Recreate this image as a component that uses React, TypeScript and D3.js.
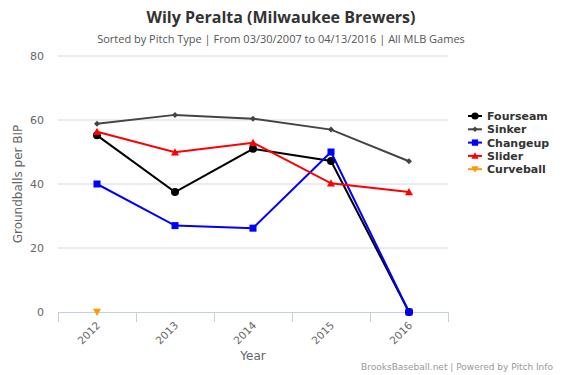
import React from "react";
import * as d3 from "d3";

const years = ["2012", "2013", "2014", "2015", "2016"];
const yTicks = [0, 20, 40, 60, 80];
const fourseam: (number | null)[] = [55.2, 37.5, 51.0, 47.2, 0];
const sinker: (number | null)[] = [58.8, 61.6, 60.4, 57.0, 47.1];
const changeup: (number | null)[] = [40.0, 27.0, 26.2, 50.0, 0];
const slider: (number | null)[] = [56.3, 49.9, 52.9, 40.2, 37.5];
const curveball: (number | null)[] = [0, null, null, null, null];

const seriesNames = ["Fourseam", "Sinker", "Changeup", "Slider", "Curveball"];
const seriesData = [fourseam, sinker, changeup, slider, curveball];
const seriesColors = ["#000000", "#444444", "#0000FF", "#FF0000", "#FF9900"];
const seriesSymbols = ["circle", "diamond", "square", "triangle", "triangle-down"];

const FONT = "'DejaVu Sans', Verdana, sans-serif";
const TFONT = "'Open Sans', 'DejaVu Sans', sans-serif";

function Marker({ type, x, y, color, size = 1 }: { type: string; x: number; y: number; color: string; size?: number }) {
  if (type === "circle") return <circle cx={x} cy={y} r={4 * size} fill={color} />;
  if (type === "diamond") {
    const r = 3 * size;
    return <path d={`M${x},${y - r}L${x + r},${y}L${x},${y + r}L${x - r},${y}Z`} fill={color} />;
  }
  if (type === "square") {
    const r = 3.5 * size;
    return <rect x={x - r} y={y - r} width={2 * r} height={2 * r} fill={color} />;
  }
  if (type === "triangle") {
    const r = 4 * size;
    return <path d={`M${x},${y - r}L${x + r},${y + r * 0.8}L${x - r},${y + r * 0.8}Z`} fill={color} />;
  }
  const r = 4 * size;
  return <path d={`M${x},${y + r}L${x + r},${y - r * 0.8}L${x - r},${y - r * 0.8}Z`} fill={color} />;
}

export default function App() {
  const W = 563, H = 375;
  const left = 58, right = 448, top = 56, bottom = 312;
  const x = d3.scaleBand<string>().domain(years).range([left, right]);
  const y = d3.scaleLinear().domain([0, 80]).range([bottom, top]);
  const cx = (yr: string) => (x(yr) ?? 0) + x.bandwidth() / 2;
  const line = d3
    .line<number | null>()
    .defined((d) => d !== null)
    .x((_, i) => cx(years[i]))
    .y((d) => y(d as number));

  const boundaries = [...years.map((yr) => x(yr) ?? 0), right];

  return (
    <svg width={W} height={H} style={{ position: "absolute", left: 0, top: 0 }} fontFamily={FONT}>
      <rect width={W} height={H} fill="#fff" />
      <text x={281} y={23} textAnchor="middle" fontSize={16} fontWeight="bold" fill="#333" fontFamily={TFONT}>
        Wily Peralta (Milwaukee Brewers)
      </text>
      <text x={281} y={43} textAnchor="middle" fontSize={11} fill="#555" fontFamily={TFONT}>
        Sorted by Pitch Type | From 03/30/2007 to 04/13/2016 | All MLB Games
      </text>
      {yTicks.filter((t) => t > 0).map((t) => (
        <line key={t} x1={left} x2={right} y1={y(t)} y2={y(t)} stroke="#D8D8D8" strokeWidth={1} />
      ))}
      {yTicks.map((t) => (
        <text key={t} x={44} y={y(t) + 4} textAnchor="end" fontSize={11} fill="#666">
          {t}
        </text>
      ))}
      <line x1={left} x2={right} y1={bottom + 0.5} y2={bottom + 0.5} stroke="#C0D0E0" />
      {boundaries.map((b, i) => (
        <line key={i} x1={b + 0.5} x2={b + 0.5} y1={bottom} y2={bottom + 10} stroke="#C0D0E0" />
      ))}
      {years.map((yr) => (
        <text
          key={yr}
          transform={`translate(${cx(yr) + 4},${bottom + 14}) rotate(-45)`}
          textAnchor="end"
          fontSize={10.5}
          fill="#666"
        >
          {yr}
        </text>
      ))}
      <text x={253} y={360} textAnchor="middle" fontSize={12} fill="#666">
        Year
      </text>
      <text transform={`translate(22,${(top + bottom) / 2}) rotate(-90)`} textAnchor="middle" fontSize={12} fill="#666">
        Groundballs per BIP
      </text>
      {seriesData.map((data, si) => (
        <g key={si}>
          <path d={line(data) ?? ""} fill="none" stroke={seriesColors[si]} strokeWidth={2} />
          {data.map((d, i) =>
            d === null ? null : (
              <Marker key={i} type={seriesSymbols[si]} x={cx(years[i])} y={y(d)} color={seriesColors[si]} />
            )
          )}
        </g>
      ))}
      {seriesNames.map((name, i) => {
        const ly = 116 + i * 13.3;
        return (
          <g key={name}>
            <line x1={468} x2={482} y1={ly} y2={ly} stroke={seriesColors[i]} strokeWidth={2} />
            <Marker type={seriesSymbols[i]} x={475} y={ly} color={seriesColors[i]} size={0.9} />
            <text x={487} y={ly + 4} fontSize={11} fontWeight="bold" fill="#333">
              {name}
            </text>
          </g>
        );
      })}
      <text x={553} y={370} textAnchor="end" fontSize={9} fill="#999">
        BrooksBaseball.net | Powered by Pitch Info
      </text>
    </svg>
  );
}
